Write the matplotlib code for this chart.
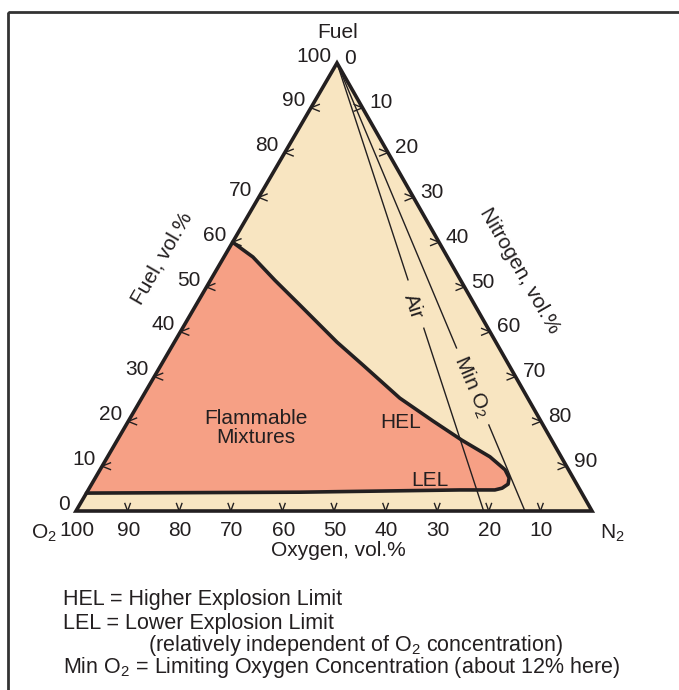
import numpy as np
import matplotlib
matplotlib.use('Agg')
import matplotlib.pyplot as plt
from matplotlib.patches import Polygon, Rectangle

plt.rcParams['font.family'] = 'Liberation Sans'
plt.rcParams['mathtext.fontset'] = 'custom'
plt.rcParams['mathtext.rm'] = 'Liberation Sans'

# compositions in vol.% -- (fuel, nitrogen), oxygen is whatever is left
tick_vals = [10, 20, 30, 40, 50, 60, 70, 80, 90]
label_vals = [0, 10, 20, 30, 40, 50, 60, 70, 80, 90, 100]

# flammable envelope: HEL curve down to the nose, then the LEL line back left
flam_fuel = [60.0, 56.7, 51.5, 46.0, 37.7, 32.6, 25.2, 20.1, 15.8, 12.1, 9.2, 7.4, 6.0, 5.1, 4.7, 4.7, 4.2, 4.0]
flam_n2 = [0.0, 5.6, 12.5, 20.1, 31.5, 39.1, 50.0, 59.0, 66.8, 74.1, 78.5, 80.2, 80.7, 80.0, 78.8, 72.0, 41.3, 0.0]

air_o2 = 21
min_o2 = 13
air_gap = (51.6, 40.8)      # fuel % where the "Air" text breaks the line
min_o2_gap = (36.4, 19.2)

beige = '#F8E5C1'
salmon = '#F6A085'
ink = '#231F20'
fs = 15

# triangle corners on the page (pixels)
L = np.array([76.0, 511.0])   # O2
R = np.array([592.0, 511.0])  # N2
T = np.array([337.0, 63.0])   # Fuel


def tern(fuel, n2):
    f = np.asarray(fuel, float) / 100
    n = np.asarray(n2, float) / 100
    o = 1 - f - n
    x = o * L[0] + n * R[0] + f * T[0]
    y = o * L[1] + n * R[1] + f * T[1]
    return x, y


def chevron(ax, x, y, ang, spread=22, size=9):
    for a in (ang - spread, ang + spread):
        r = np.radians(a)
        ax.plot([x, x + size * np.cos(r)], [y, y + size * np.sin(r)], color=ink, lw=1.0)


fig = plt.figure(figsize=(6.79, 6.90), dpi=100)
ax = fig.add_axes([0, 0, 1, 1])
ax.set_xlim(0, 679)
ax.set_ylim(690, 0)
ax.axis('off')

ax.add_patch(Rectangle((8, 12), 720, 720, fill=False, ec='#333333', lw=2))

# triangle
ax.add_patch(Polygon([L, R, T], closed=True, fc=beige, ec='none'))
fx, fy = tern(flam_fuel, flam_n2)
ax.add_patch(Polygon(np.column_stack([fx, fy]), closed=True, fc=salmon, ec='none'))
ax.plot(fx, fy, color=ink, lw=2.6, solid_joinstyle='round', solid_capstyle='round')
ax.add_patch(Polygon([L, R, T], closed=True, fill=False, ec=ink, lw=2.6, joinstyle='miter'))

# air and limiting oxygen lines from the fuel corner
for o2, gap in [(air_o2, air_gap), (min_o2, min_o2_gap)]:
    n_at = lambda f: (100 - f) * (100 - o2) / 100
    x1, y1 = tern([100, gap[0]], [n_at(100), n_at(gap[0])])
    x2, y2 = tern([gap[1], 0], [n_at(gap[1]), n_at(0)])
    ax.plot(x1, y1, color=ink, lw=1.0)
    ax.plot(x2, y2, color=ink, lw=1.0)

ax.text(413, 306, 'Air', fontsize=fs, rotation=-72, ha='center', va='center',
        rotation_mode='anchor', color=ink)
ax.text(472, 387, 'Min O$_\\mathregular{2}$', fontsize=fs, rotation=-67, ha='center', va='center',
        rotation_mode='anchor', color=ink)

# chevron ticks
for v in tick_vals:
    x, y = tern(v, 0)
    chevron(ax, x, y, 0)
    x, y = tern(0, 100 - v)
    chevron(ax, x, y, -90, spread=20, size=8)
    x, y = tern(100 - v, v)
    chevron(ax, x, y, 180)

# tick labels
for v in label_vals:
    x, y = tern(v, 0)
    ax.text(x - 6, y - 7, str(v), fontsize=fs, ha='right', va='center', color=ink)
    if v < 100:
        x, y = tern(100 - v, v)
        ax.text(x + 7, y - 5, str(v), fontsize=fs, ha='left', va='center', color=ink)
    if v > 0:
        x, y = tern(0, 100 - v)
        ax.text(x + 1, y + 20, str(v), fontsize=fs, ha='center', va='center', color=ink)

ax.text(338, 33, 'Fuel', fontsize=fs, ha='center', va='center', color=ink)
ax.text(338, 550, 'Oxygen, vol.%', fontsize=fs, ha='center', va='center', color=ink)
ax.text(44, 533, 'O$_\\mathregular{2}$', fontsize=fs, ha='center', va='center', color=ink)
ax.text(612, 533, 'N$_\\mathregular{2}$', fontsize=fs, ha='center', va='center', color=ink)
ax.text(162, 258, 'Fuel, vol.%', fontsize=fs, rotation=60, ha='center', va='center',
        rotation_mode='anchor', color=ink)
ax.text(520, 271, 'Nitrogen, vol.%', fontsize=fs, rotation=-60, ha='center', va='center',
        rotation_mode='anchor', color=ink)

ax.text(256, 428, 'Flammable\nMixtures', fontsize=fs, ha='center', va='center',
        linespacing=1.0, color=ink)
ax.text(401, 423, 'HEL', fontsize=fs, ha='center', va='center', color=ink)
ax.text(430, 480, 'LEL', fontsize=fs, ha='center', va='center', color=ink)

notes = [
    (63, 600, 'HEL = Higher Explosion Limit'),
    (63, 623, 'LEL = Lower Explosion Limit'),
    (148, 645, '(relatively independent of O$_\\mathregular{2}$ concentration)'),
    (63, 668, 'Min O$_\\mathregular{2}$ = Limiting Oxygen Concentration (about 12% here)'),
]
for x, y, s in notes:
    ax.text(x, y, s, fontsize=15.5, ha='left', va='center', color=ink)

fig.savefig('out.png', dpi=100)
